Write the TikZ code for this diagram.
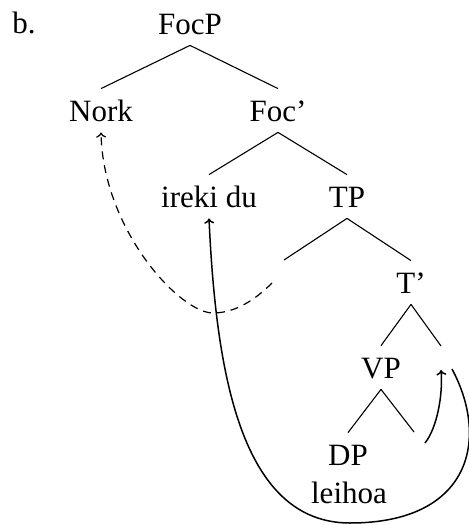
\documentclass[tikz,border=0pt]{standalone}
\usepackage{fontspec}
\setmainfont{Liberation Serif}
\usetikzlibrary{arrows.meta}
\tikzset{
  lbl/.style={font=\fontsize{15.5}{18}\selectfont, anchor=base, inner xsep=1pt, inner ysep=5pt, text height=11pt, text depth=0.5pt},
  branch/.style={line width=0.55pt},
  mvarrow/.style={line width=0.75pt, -{To[length=2.6pt,width=5pt]}},
  dasharrow/.style={line width=0.6pt, dash pattern=on 4pt off 3pt, -{To[length=2.6pt,width=5pt]}}
}
\begin{document}
\begin{tikzpicture}[x=0.5pt,y=-0.5pt]
\useasboundingbox (0,0) rectangle (468,525);
% labels
\node[font=\fontsize{15.5}{18}\selectfont, anchor=base west, inner sep=0pt] (ex) at (12,33) {b.};
\node[lbl] (focp) at (190,34) {FocP};
\node[lbl] (nork) at (101,121) {Nork};
\node[lbl] (focb) at (278,121) {Foc’};
\node[lbl] (ireki) at (209,207) {ireki du};
\node[lbl] (tp) at (347,207) {TP};
\node[lbl] (tb) at (411,293) {T’};
\node[lbl] (vp) at (381,378) {VP};
\node[lbl] (dp) at (348,465) {DP};
\node[lbl] (leihoa) at (349,503) {leihoa};
% empty positions
\coordinate (spec) at (284,260);
\coordinate (thead) at (441,346);
\coordinate (vhead) at (414,432);
\coordinate (spectrace) at (272,283);
\coordinate (theadtrace) at (452,369);
\coordinate (theadland) at (441,370);
\coordinate (vheadtrace) at (425,443);
% branches
\draw[branch] (focp.south) -- (nork.north);
\draw[branch] (focp.south) -- (focb.north);
\draw[branch] (focb.south) -- (ireki.north);
\draw[branch] (focb.south) -- (tp.north);
\draw[branch] (tp.south) -- (spec);
\draw[branch] (tp.south) -- (tb.north);
\draw[branch] (tb.south) -- (vp.north);
\draw[branch] (tb.south) -- (thead);
\draw[branch] (vp.south) -- (dp.north);
\draw[branch] (vp.south) -- (vhead);
% movement arrows
\draw[dasharrow] (spectrace) .. controls (255,300) and (235,313) .. (213,313)
  .. controls (180,313) and (103,230) .. (nork.south);
\draw[mvarrow] (theadtrace) .. controls (490,440) and (470,523) .. (350,523)
  .. controls (240,523) and (216,370) .. (ireki.south);
\draw[mvarrow] (vheadtrace) .. controls (437,428) and (443,395) .. (theadland);
\end{tikzpicture}
\end{document}
